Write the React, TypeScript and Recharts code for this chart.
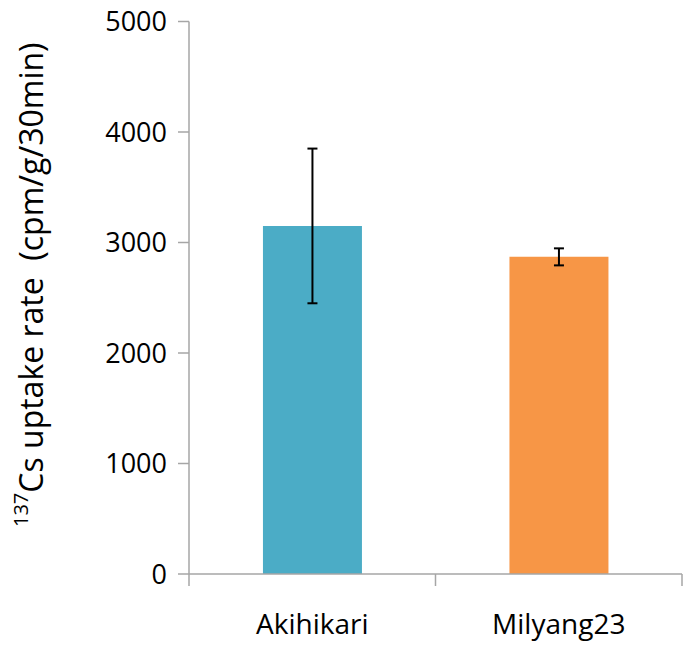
import React from "react";
import { BarChart, Bar, XAxis, YAxis, ErrorBar, Cell } from "recharts";

const categories = ["Akihikari", "Milyang23"];
const uptake = [3150, 2870];
const errors = [700, 77];
const colors = ["#4BACC6", "#F79646"];
const yTicks = [0, 1000, 2000, 3000, 4000, 5000];

const data = categories.map((name, i) => ({ name, value: uptake[i], err: errors[i] }));

const FONT = "'Open Sans', sans-serif";
const AXIS = "#A6A6A6";

const YLabel = (props: any) => {
  const vb = props.viewBox || {};
  const cx = 30;
  const cy = (vb.y ?? 0) + (vb.height ?? 0) / 2 - 13;
  return (
    <text
      x={cx}
      y={cy}
      transform={`rotate(-90, ${cx}, ${cy})`}
      textAnchor="middle"
      dominantBaseline="central"
      fontFamily={FONT}
      fontSize={32}
      fill="#000"
    >
      <tspan fontSize={20} dy={-10}>137</tspan>
      <tspan dy={10}>{"Cs uptake rate\u00a0\u00a0(cpm/g/30min)"}</tspan>
    </text>
  );
};

const CatTick = (props: any) => {
  const { x, y, payload, index, visibleTicksCount } = props;
  const half = payload?.offset ?? 123;
  const last = index === (visibleTicksCount ?? 2) - 1;
  return (
    <g>
      <line x1={x - half} y1={y} x2={x - half} y2={y + 12} stroke={AXIS} strokeWidth={1.5} />
      {last && <line x1={x + half} y1={y} x2={x + half} y2={y + 12} stroke={AXIS} strokeWidth={1.5} />}
      <text x={x} y={y + 60} textAnchor="middle" fontFamily={FONT} fontSize={28} fill="#000">
        {payload.value}
      </text>
    </g>
  );
};

export default function App() {
  return (
    <div style={{ position: "absolute", left: 0, top: 0, background: "#fff" }}>
      <BarChart
        width={685}
        height={647}
        data={data}
        margin={{ top: 21.5, right: 3, bottom: 0, left: 0 }}
        barCategoryGap="30%"
      >
        <XAxis
          dataKey="name"
          tickLine={false}
          tickSize={0}
          tickMargin={0}
          axisLine={{ stroke: AXIS, strokeWidth: 1.5 }}
          height={73}
          tick={<CatTick />}
          interval={0}
        />
        <YAxis
          domain={[0, 5000]}
          ticks={yTicks}
          width={189}
          tickSize={11}
          tickMargin={11}
          tickLine={{ stroke: AXIS, strokeWidth: 1.5 }}
          axisLine={{ stroke: AXIS, strokeWidth: 1.5 }}
          tick={{ fontFamily: FONT, fontSize: 27, fill: "#000" }}
          interval={0}
          label={<YLabel />}
        />
        <Bar dataKey="value" isAnimationActive={false}>
          {data.map((d, i) => (
            <Cell key={d.name} fill={colors[i]} />
          ))}
          <ErrorBar dataKey="err" width={5} stroke="#000" strokeWidth={2} direction="y" />
        </Bar>
      </BarChart>
    </div>
  );
}
